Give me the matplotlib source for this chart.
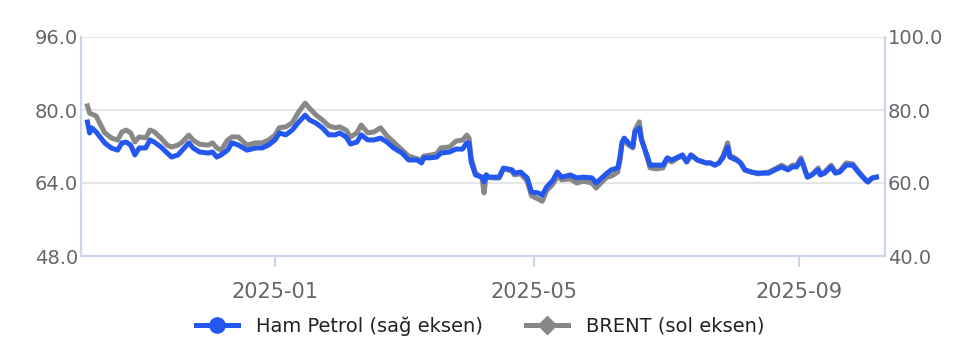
import pandas as pd
import matplotlib
matplotlib.use("Agg")
import matplotlib.pyplot as plt
import matplotlib.dates as mdates
from matplotlib.lines import Line2D

# dates (2024-10 .. 2025-10)
dates = [
    "2024-10-06", "2024-10-07", "2024-10-08", "2024-10-10", "2024-10-14", "2024-10-17", "2024-10-20",
    "2024-10-22", "2024-10-24", "2024-10-26", "2024-10-28", "2024-10-30", "2024-11-02", "2024-11-04",
    "2024-11-06", "2024-11-09", "2024-11-12", "2024-11-14", "2024-11-17", "2024-11-19", "2024-11-22",
    "2024-11-24", "2024-11-27", "2024-12-01", "2024-12-03", "2024-12-05", "2024-12-07", "2024-12-10",
    "2024-12-12", "2024-12-15", "2024-12-19", "2024-12-23", "2024-12-26", "2024-12-29", "2025-01-01",
    "2025-01-03", "2025-01-06", "2025-01-09", "2025-01-12", "2025-01-15", "2025-01-17", "2025-01-20",
    "2025-01-23", "2025-01-26", "2025-01-29", "2025-01-31", "2025-02-03", "2025-02-05", "2025-02-08",
    "2025-02-10", "2025-02-13", "2025-02-16", "2025-02-19", "2025-02-22", "2025-02-25", "2025-03-01",
    "2025-03-04", "2025-03-08", "2025-03-10", "2025-03-11", "2025-03-14", "2025-03-17", "2025-03-19",
    "2025-03-23", "2025-03-26", "2025-03-29", "2025-03-31", "2025-04-01", "2025-04-02", "2025-04-04",
    "2025-04-07", "2025-04-08", "2025-04-09", "2025-04-10", "2025-04-12", "2025-04-15", "2025-04-17",
    "2025-04-21", "2025-04-22", "2025-04-25", "2025-04-28", "2025-04-30", "2025-05-03", "2025-05-05",
    "2025-05-07", "2025-05-10", "2025-05-12", "2025-05-14", "2025-05-18", "2025-05-21", "2025-05-24",
    "2025-05-28", "2025-05-30", "2025-06-02", "2025-06-04", "2025-06-06", "2025-06-09", "2025-06-10",
    "2025-06-11", "2025-06-12", "2025-06-14", "2025-06-16", "2025-06-17", "2025-06-19", "2025-06-20",
    "2025-06-23", "2025-06-24", "2025-06-27", "2025-06-30", "2025-07-02", "2025-07-04", "2025-07-07",
    "2025-07-09", "2025-07-11", "2025-07-13", "2025-07-16", "2025-07-20", "2025-07-22", "2025-07-24",
    "2025-07-26", "2025-07-28", "2025-07-30", "2025-07-31", "2025-08-03", "2025-08-05", "2025-08-07",
    "2025-08-10", "2025-08-13", "2025-08-15", "2025-08-18", "2025-08-21", "2025-08-24", "2025-08-27",
    "2025-08-29", "2025-08-31", "2025-09-02", "2025-09-03", "2025-09-05", "2025-09-07", "2025-09-10",
    "2025-09-11", "2025-09-13", "2025-09-16", "2025-09-18", "2025-09-20", "2025-09-23", "2025-09-26",
    "2025-09-29", "2025-10-02", "2025-10-03", "2025-10-05", "2025-10-07",
]

# Ham Petrol (right axis)
ham_petrol = [
    76.7, 73.7, 75.1, 74.0, 71.0, 69.6, 69.0, 71.0, 71.2, 70.4, 67.7, 69.6, 69.6, 71.8,
    71.2, 69.9, 68.2, 67.1, 67.7, 69.0, 71.0, 69.6, 68.5, 68.2, 68.5, 67.1, 67.7, 69.0,
    71.0, 70.4, 69.0, 69.6, 69.6, 70.4, 71.8, 73.7, 73.2, 74.5, 76.7, 78.6, 77.3, 76.4,
    75.1, 73.2, 73.2, 73.7, 72.6, 70.7, 71.2, 73.2, 71.8, 71.8, 72.3, 71.2, 69.6, 68.2,
    66.3, 66.3, 65.5, 66.9, 66.9, 67.1, 68.2, 68.5, 69.3, 69.3, 71.0, 71.0, 65.8, 62.2,
    61.6, 60.3, 62.2, 61.6, 61.6, 61.6, 64.1, 63.6, 62.7, 63.0, 61.4, 57.5, 57.3, 56.7,
    58.9, 60.8, 63.0, 61.6, 62.2, 61.4, 61.6, 61.4, 60.0, 61.6, 62.7, 63.6, 64.1, 66.9,
    71.2, 72.3, 71.0, 69.9, 74.0, 75.1, 71.8, 66.9, 64.9, 64.9, 64.9, 66.9, 66.3, 67.1,
    67.7, 65.8, 67.7, 66.3, 65.5, 65.5, 64.9, 65.5, 67.1, 69.9, 67.1, 66.3, 65.5, 63.6,
    63.0, 62.7, 62.7, 62.7, 63.6, 64.4, 63.6, 64.4, 64.4, 66.3, 64.9, 61.6, 62.2, 63.6,
    62.2, 62.7, 64.4, 62.7, 63.0, 64.9, 64.9, 62.7, 60.8, 60.3, 61.4, 61.6,
]

# BRENT (left axis)
brent = [
    80.9, 79.3, 79.1, 78.7, 75.0, 73.9, 73.4, 75.2, 75.6, 75.0, 73.0, 74.1, 73.9, 75.6,
    75.2, 73.9, 72.3, 71.9, 72.3, 73.0, 74.5, 73.4, 72.5, 72.3, 72.8, 71.7, 71.2, 73.4,
    74.1, 74.1, 72.3, 72.8, 72.8, 73.4, 74.5, 76.1, 76.3, 77.2, 79.6, 81.5, 80.4, 78.9,
    77.8, 76.5, 76.1, 76.3, 75.6, 74.1, 75.0, 76.7, 75.0, 75.2, 76.1, 74.3, 73.0, 71.2,
    69.9, 69.3, 69.0, 69.9, 70.1, 70.4, 71.7, 71.9, 73.2, 73.4, 74.5, 73.9, 69.5, 66.2,
    65.1, 61.8, 65.8, 65.3, 65.1, 65.1, 67.1, 66.6, 65.8, 66.0, 64.4, 61.2, 60.5, 60.0,
    62.3, 63.8, 65.5, 64.7, 64.9, 64.0, 64.4, 64.0, 62.9, 64.4, 65.3, 65.5, 66.4, 68.8,
    72.5, 73.4, 72.3, 71.7, 75.6, 77.4, 73.9, 69.0, 67.3, 67.1, 67.3, 69.3, 68.6, 69.5,
    69.9, 68.6, 70.1, 69.0, 68.4, 68.4, 67.9, 68.4, 70.1, 72.8, 70.1, 69.3, 68.4, 66.8,
    66.4, 66.0, 66.2, 66.4, 67.1, 67.9, 67.1, 67.9, 67.9, 69.5, 68.2, 65.3, 65.8, 67.3,
    66.0, 66.4, 67.9, 66.4, 66.6, 68.4, 68.2, 66.4, 64.7, 64.2, 65.0, 65.3,
]

left_ticks = [48, 64, 80, 96]
right_ticks = [40, 60, 80, 100]
x_ticks = ["2025-01-01", "2025-05-01", "2025-09-01"]

BLUE = "#2456f0"
GRAY = "#888888"
AXIS = "#ccd6eb"
GRID = "#e6e6e6"
LABEL = "#666666"

df = pd.DataFrame({"ham": ham_petrol, "brent": brent}, index=pd.to_datetime(dates))

fig = plt.figure(figsize=(9.6, 3.52), dpi=100)
ax = fig.add_axes([81 / 960, 1 - 256 / 352, 804 / 960, 219 / 352])
ax2 = ax.twinx()

ax.plot(df.index, df["brent"], color=GRAY, lw=3.6, solid_joinstyle="round", zorder=2)
ax2.plot(df.index, df["ham"], color=BLUE, lw=3.6, solid_joinstyle="round", zorder=3)

ax.set_ylim(left_ticks[0], left_ticks[-1])
ax2.set_ylim(right_ticks[0], right_ticks[-1])
ax.set_yticks(left_ticks)
ax.set_yticklabels([f"{v:.1f}" for v in left_ticks])
ax2.set_yticks(right_ticks)
ax2.set_yticklabels([f"{v:.1f}" for v in right_ticks])

ax.set_xlim(pd.Timestamp("2024-10-03"), pd.Timestamp("2025-10-11"))
ax.set_xticks(pd.to_datetime(x_ticks))
ax.xaxis.set_major_formatter(mdates.DateFormatter("%Y-%m"))

ax.grid(axis="y", color=GRID, lw=1.5)
ax.set_axisbelow(True)
for a in (ax, ax2):
    a.spines["top"].set_visible(False)
    for s in ("left", "right", "bottom"):
        a.spines[s].set_color(AXIS)
        a.spines[s].set_linewidth(1.5)

ax.tick_params(axis="y", length=0, pad=2, labelsize=14, labelcolor=LABEL)
ax2.tick_params(axis="y", length=0, pad=2, labelsize=14, labelcolor=LABEL)
ax.tick_params(axis="x", length=8, width=1.5, color=AXIS, pad=11, labelsize=15, labelcolor=LABEL)

handles = [
    Line2D([], [], color=BLUE, lw=3.6, marker="o", markersize=11),
    Line2D([], [], color=GRAY, lw=3.6, marker="D", markersize=9),
]
fig.legend(handles, ["Ham Petrol (sağ eksen)", "BRENT (sol eksen)"], loc="center",
           bbox_to_anchor=(0.5, 1 - 326 / 352), ncol=2, frameon=False, fontsize=14,
           handlelength=2.2, handletextpad=0.9, columnspacing=2.2, labelcolor="#222222")

fig.savefig("out.png", dpi=100)
